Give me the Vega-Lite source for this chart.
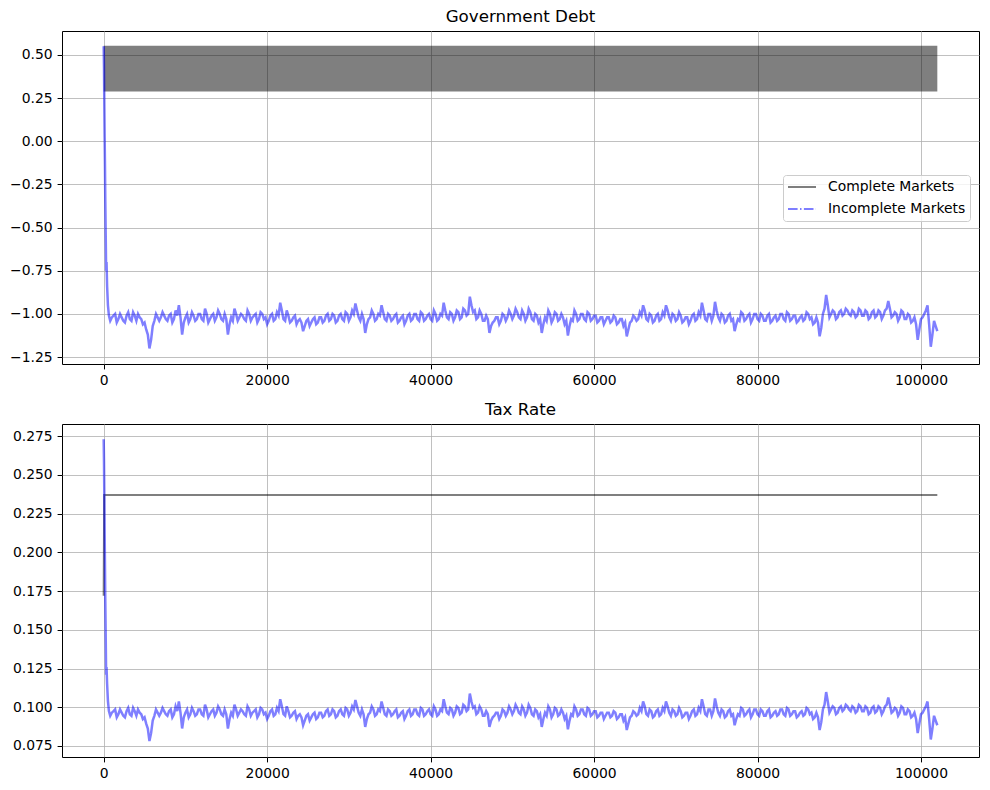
{
  "$schema": "https://vega.github.io/schema/vega-lite/v6.json",
  "padding": {"left": 9, "top": 8, "right": 5, "bottom": 5},
  "spacing": 12,
  "datasets": {
    "cm_debt": [
      {"t": 0, "lo": 0.288, "hi": 0.552},
      {"t": 102000, "lo": 0.288, "hi": 0.552}
    ],
    "cm_tax": [
      {"t": 0, "tax": 0.172},
      {"t": 60, "tax": 0.237},
      {"t": 102000, "tax": 0.237}
    ],
    "im": [
      {"t": 0, "debt": 0.55, "tax": 0.273},
      {"t": 40, "debt": 0.42, "tax": 0.258},
      {"t": 80, "debt": 0.2, "tax": 0.235},
      {"t": 120, "debt": 0.02, "tax": 0.212},
      {"t": 160, "debt": -0.15, "tax": 0.19},
      {"t": 200, "debt": -0.35, "tax": 0.168},
      {"t": 250, "debt": -0.55, "tax": 0.145},
      {"t": 300, "debt": -0.75, "tax": 0.121},
      {"t": 350, "debt": -0.7, "tax": 0.126},
      {"t": 420, "debt": -0.84, "tax": 0.115},
      {"t": 520, "debt": -0.95, "tax": 0.104},
      {"t": 640, "debt": -1.01, "tax": 0.0975},
      {"t": 800, "debt": -1.04, "tax": 0.0945},
      {"t": 1000, "debt": -1.02, "tax": 0.0965},
      {"t": 1200, "debt": -1.01, "tax": 0.0975},
      {"t": 1400, "debt": -1.0, "tax": 0.0986},
      {"t": 1600, "debt": -1.05, "tax": 0.0935},
      {"t": 1800, "debt": -1.03, "tax": 0.0955},
      {"t": 2000, "debt": -1.0, "tax": 0.0986},
      {"t": 2200, "debt": -1.02, "tax": 0.0965},
      {"t": 2400, "debt": -1.04, "tax": 0.0945},
      {"t": 2600, "debt": -1.05, "tax": 0.0935},
      {"t": 2800, "debt": -1.01, "tax": 0.0975},
      {"t": 3000, "debt": -0.99, "tax": 0.0996},
      {"t": 3200, "debt": -1.03, "tax": 0.0955},
      {"t": 3400, "debt": -1.04, "tax": 0.0945},
      {"t": 3600, "debt": -0.99, "tax": 0.0996},
      {"t": 3800, "debt": -1.01, "tax": 0.0975},
      {"t": 4000, "debt": -1.04, "tax": 0.0945},
      {"t": 4200, "debt": -1.0, "tax": 0.0986},
      {"t": 4400, "debt": -1.02, "tax": 0.0965},
      {"t": 4600, "debt": -1.03, "tax": 0.0955},
      {"t": 4800, "debt": -1.06, "tax": 0.0924},
      {"t": 5000, "debt": -1.05, "tax": 0.0935},
      {"t": 5200, "debt": -1.09, "tax": 0.0894},
      {"t": 5400, "debt": -1.12, "tax": 0.0863},
      {"t": 5600, "debt": -1.2, "tax": 0.0782},
      {"t": 5800, "debt": -1.15, "tax": 0.0833},
      {"t": 6000, "debt": -1.07, "tax": 0.0914},
      {"t": 6200, "debt": -1.04, "tax": 0.0945},
      {"t": 6400, "debt": -1.0, "tax": 0.0986},
      {"t": 6600, "debt": -1.02, "tax": 0.0965},
      {"t": 6800, "debt": -1.04, "tax": 0.0945},
      {"t": 7000, "debt": -1.02, "tax": 0.0965},
      {"t": 7200, "debt": -0.99, "tax": 0.0996},
      {"t": 7400, "debt": -1.01, "tax": 0.0975},
      {"t": 7600, "debt": -1.03, "tax": 0.0955},
      {"t": 7800, "debt": -1.04, "tax": 0.0945},
      {"t": 8000, "debt": -1.01, "tax": 0.0975},
      {"t": 8200, "debt": -1.0, "tax": 0.0986},
      {"t": 8400, "debt": -1.05, "tax": 0.0935},
      {"t": 8600, "debt": -1.03, "tax": 0.0955},
      {"t": 8800, "debt": -0.98, "tax": 0.1006},
      {"t": 9000, "debt": -1.01, "tax": 0.0975},
      {"t": 9200, "debt": -0.95, "tax": 0.1037},
      {"t": 9400, "debt": -1.02, "tax": 0.0965},
      {"t": 9600, "debt": -1.12, "tax": 0.0863},
      {"t": 9800, "debt": -1.05, "tax": 0.0935},
      {"t": 10000, "debt": -1.02, "tax": 0.0965},
      {"t": 10200, "debt": -1.0, "tax": 0.0986},
      {"t": 10400, "debt": -1.05, "tax": 0.0935},
      {"t": 10600, "debt": -1.03, "tax": 0.0955},
      {"t": 10800, "debt": -0.99, "tax": 0.0996},
      {"t": 11000, "debt": -1.01, "tax": 0.0975},
      {"t": 11200, "debt": -1.04, "tax": 0.0945},
      {"t": 11400, "debt": -1.03, "tax": 0.0955},
      {"t": 11600, "debt": -1.0, "tax": 0.0986},
      {"t": 11800, "debt": -1.0, "tax": 0.0986},
      {"t": 12000, "debt": -1.03, "tax": 0.0955},
      {"t": 12200, "debt": -1.04, "tax": 0.0945},
      {"t": 12400, "debt": -0.97, "tax": 0.1016},
      {"t": 12600, "debt": -1.0, "tax": 0.0986},
      {"t": 12800, "debt": -1.05, "tax": 0.0935},
      {"t": 13000, "debt": -1.03, "tax": 0.0955},
      {"t": 13200, "debt": -1.01, "tax": 0.0975},
      {"t": 13400, "debt": -1.0, "tax": 0.0986},
      {"t": 13600, "debt": -1.04, "tax": 0.0945},
      {"t": 13800, "debt": -1.02, "tax": 0.0965},
      {"t": 14000, "debt": -0.98, "tax": 0.1006},
      {"t": 14200, "debt": -1.0, "tax": 0.0986},
      {"t": 14400, "debt": -1.03, "tax": 0.0955},
      {"t": 14600, "debt": -1.04, "tax": 0.0945},
      {"t": 14800, "debt": -1.0, "tax": 0.0986},
      {"t": 15000, "debt": -1.03, "tax": 0.0955},
      {"t": 15200, "debt": -1.12, "tax": 0.0863},
      {"t": 15400, "debt": -1.06, "tax": 0.0924},
      {"t": 15600, "debt": -1.02, "tax": 0.0965},
      {"t": 15800, "debt": -1.04, "tax": 0.0945},
      {"t": 16000, "debt": -0.97, "tax": 0.1016},
      {"t": 16200, "debt": -1.0, "tax": 0.0986},
      {"t": 16400, "debt": -1.04, "tax": 0.0945},
      {"t": 16600, "debt": -1.02, "tax": 0.0965},
      {"t": 16800, "debt": -1.0, "tax": 0.0986},
      {"t": 17000, "debt": -1.01, "tax": 0.0975},
      {"t": 17200, "debt": -1.03, "tax": 0.0955},
      {"t": 17400, "debt": -1.04, "tax": 0.0945},
      {"t": 17600, "debt": -0.98, "tax": 0.1006},
      {"t": 17800, "debt": -1.0, "tax": 0.0986},
      {"t": 18000, "debt": -1.04, "tax": 0.0945},
      {"t": 18200, "debt": -1.02, "tax": 0.0965},
      {"t": 18400, "debt": -1.01, "tax": 0.0975},
      {"t": 18600, "debt": -1.0, "tax": 0.0986},
      {"t": 18800, "debt": -1.05, "tax": 0.0935},
      {"t": 19000, "debt": -1.03, "tax": 0.0955},
      {"t": 19200, "debt": -0.99, "tax": 0.0996},
      {"t": 19400, "debt": -1.0, "tax": 0.0986},
      {"t": 19600, "debt": -1.03, "tax": 0.0955},
      {"t": 19800, "debt": -1.02, "tax": 0.0965},
      {"t": 20000, "debt": -1.06, "tax": 0.0924},
      {"t": 20200, "debt": -1.04, "tax": 0.0945},
      {"t": 20400, "debt": -1.01, "tax": 0.0975},
      {"t": 20600, "debt": -1.0, "tax": 0.0986},
      {"t": 20800, "debt": -1.04, "tax": 0.0945},
      {"t": 21000, "debt": -1.03, "tax": 0.0955},
      {"t": 21200, "debt": -0.99, "tax": 0.0996},
      {"t": 21400, "debt": -1.01, "tax": 0.0975},
      {"t": 21600, "debt": -0.935, "tax": 0.1052},
      {"t": 21800, "debt": -0.98, "tax": 0.1006},
      {"t": 22000, "debt": -1.03, "tax": 0.0955},
      {"t": 22200, "debt": -1.04, "tax": 0.0945},
      {"t": 22400, "debt": -0.98, "tax": 0.1006},
      {"t": 22600, "debt": -1.01, "tax": 0.0975},
      {"t": 22800, "debt": -1.05, "tax": 0.0935},
      {"t": 23000, "debt": -1.04, "tax": 0.0945},
      {"t": 23200, "debt": -1.02, "tax": 0.0965},
      {"t": 23400, "debt": -1.01, "tax": 0.0975},
      {"t": 23600, "debt": -1.06, "tax": 0.0924},
      {"t": 23800, "debt": -1.04, "tax": 0.0945},
      {"t": 24000, "debt": -1.03, "tax": 0.0955},
      {"t": 24200, "debt": -1.05, "tax": 0.0935},
      {"t": 24400, "debt": -1.1, "tax": 0.0884},
      {"t": 24600, "debt": -1.07, "tax": 0.0914},
      {"t": 24800, "debt": -1.04, "tax": 0.0945},
      {"t": 25000, "debt": -1.03, "tax": 0.0955},
      {"t": 25200, "debt": -1.07, "tax": 0.0914},
      {"t": 25400, "debt": -1.05, "tax": 0.0935},
      {"t": 25600, "debt": -1.03, "tax": 0.0955},
      {"t": 25800, "debt": -1.02, "tax": 0.0965},
      {"t": 26000, "debt": -1.06, "tax": 0.0924},
      {"t": 26200, "debt": -1.05, "tax": 0.0935},
      {"t": 26400, "debt": -1.02, "tax": 0.0965},
      {"t": 26600, "debt": -1.02, "tax": 0.0965},
      {"t": 26800, "debt": -1.05, "tax": 0.0935},
      {"t": 27000, "debt": -1.04, "tax": 0.0945},
      {"t": 27200, "debt": -1.01, "tax": 0.0975},
      {"t": 27400, "debt": -1.0, "tax": 0.0986},
      {"t": 27600, "debt": -1.04, "tax": 0.0945},
      {"t": 27800, "debt": -1.03, "tax": 0.0955},
      {"t": 28000, "debt": -1.0, "tax": 0.0986},
      {"t": 28200, "debt": -1.01, "tax": 0.0975},
      {"t": 28400, "debt": -1.05, "tax": 0.0935},
      {"t": 28600, "debt": -1.04, "tax": 0.0945},
      {"t": 28800, "debt": -1.01, "tax": 0.0975},
      {"t": 29000, "debt": -1.0, "tax": 0.0986},
      {"t": 29200, "debt": -1.03, "tax": 0.0955},
      {"t": 29400, "debt": -1.04, "tax": 0.0945},
      {"t": 29600, "debt": -0.99, "tax": 0.0996},
      {"t": 29800, "debt": -1.0, "tax": 0.0986},
      {"t": 30000, "debt": -1.04, "tax": 0.0945},
      {"t": 30200, "debt": -1.02, "tax": 0.0965},
      {"t": 30400, "debt": -0.98, "tax": 0.1006},
      {"t": 30600, "debt": -1.0, "tax": 0.0986},
      {"t": 30800, "debt": -0.94, "tax": 0.1047},
      {"t": 31000, "debt": -0.98, "tax": 0.1006},
      {"t": 31200, "debt": -1.02, "tax": 0.0965},
      {"t": 31400, "debt": -1.04, "tax": 0.0945},
      {"t": 31600, "debt": -1.0, "tax": 0.0986},
      {"t": 31800, "debt": -1.03, "tax": 0.0955},
      {"t": 32000, "debt": -1.11, "tax": 0.0873},
      {"t": 32200, "debt": -1.06, "tax": 0.0924},
      {"t": 32400, "debt": -1.03, "tax": 0.0955},
      {"t": 32600, "debt": -1.02, "tax": 0.0965},
      {"t": 32800, "debt": -0.98, "tax": 0.1006},
      {"t": 33000, "debt": -1.0, "tax": 0.0986},
      {"t": 33200, "debt": -1.04, "tax": 0.0945},
      {"t": 33400, "debt": -1.03, "tax": 0.0955},
      {"t": 33600, "debt": -1.0, "tax": 0.0986},
      {"t": 33800, "debt": -1.01, "tax": 0.0975},
      {"t": 34000, "debt": -0.95, "tax": 0.1037},
      {"t": 34200, "debt": -0.99, "tax": 0.0996},
      {"t": 34400, "debt": -1.03, "tax": 0.0955},
      {"t": 34600, "debt": -1.04, "tax": 0.0945},
      {"t": 34800, "debt": -1.0, "tax": 0.0986},
      {"t": 35000, "debt": -1.01, "tax": 0.0975},
      {"t": 35200, "debt": -1.04, "tax": 0.0945},
      {"t": 35400, "debt": -1.03, "tax": 0.0955},
      {"t": 35600, "debt": -1.01, "tax": 0.0975},
      {"t": 35800, "debt": -1.0, "tax": 0.0986},
      {"t": 36000, "debt": -1.05, "tax": 0.0935},
      {"t": 36200, "debt": -1.04, "tax": 0.0945},
      {"t": 36400, "debt": -1.02, "tax": 0.0965},
      {"t": 36600, "debt": -1.01, "tax": 0.0975},
      {"t": 36800, "debt": -1.06, "tax": 0.0924},
      {"t": 37000, "debt": -1.04, "tax": 0.0945},
      {"t": 37200, "debt": -1.01, "tax": 0.0975},
      {"t": 37400, "debt": -1.0, "tax": 0.0986},
      {"t": 37600, "debt": -1.04, "tax": 0.0945},
      {"t": 37800, "debt": -1.03, "tax": 0.0955},
      {"t": 38000, "debt": -1.0, "tax": 0.0986},
      {"t": 38200, "debt": -1.0, "tax": 0.0986},
      {"t": 38400, "debt": -1.03, "tax": 0.0955},
      {"t": 38600, "debt": -1.04, "tax": 0.0945},
      {"t": 38800, "debt": -0.99, "tax": 0.0996},
      {"t": 39000, "debt": -1.0, "tax": 0.0986},
      {"t": 39200, "debt": -1.04, "tax": 0.0945},
      {"t": 39400, "debt": -1.03, "tax": 0.0955},
      {"t": 39600, "debt": -1.01, "tax": 0.0975},
      {"t": 39800, "debt": -1.0, "tax": 0.0986},
      {"t": 40000, "debt": -1.03, "tax": 0.0955},
      {"t": 40200, "debt": -1.04, "tax": 0.0945},
      {"t": 40400, "debt": -0.98, "tax": 0.1006},
      {"t": 40600, "debt": -1.0, "tax": 0.0986},
      {"t": 40800, "debt": -1.04, "tax": 0.0945},
      {"t": 41000, "debt": -1.03, "tax": 0.0955},
      {"t": 41200, "debt": -1.0, "tax": 0.0986},
      {"t": 41400, "debt": -1.01, "tax": 0.0975},
      {"t": 41600, "debt": -0.935, "tax": 0.1052},
      {"t": 41800, "debt": -0.98, "tax": 0.1006},
      {"t": 42000, "debt": -1.02, "tax": 0.0965},
      {"t": 42200, "debt": -1.03, "tax": 0.0955},
      {"t": 42400, "debt": -0.99, "tax": 0.0996},
      {"t": 42600, "debt": -1.0, "tax": 0.0986},
      {"t": 42800, "debt": -1.04, "tax": 0.0945},
      {"t": 43000, "debt": -1.02, "tax": 0.0965},
      {"t": 43200, "debt": -0.98, "tax": 0.1006},
      {"t": 43400, "debt": -0.99, "tax": 0.0996},
      {"t": 43600, "debt": -1.03, "tax": 0.0955},
      {"t": 43800, "debt": -1.02, "tax": 0.0965},
      {"t": 44000, "debt": -0.97, "tax": 0.1016},
      {"t": 44200, "debt": -0.98, "tax": 0.1006},
      {"t": 44400, "debt": -1.01, "tax": 0.0975},
      {"t": 44600, "debt": -1.0, "tax": 0.0986},
      {"t": 44800, "debt": -0.9, "tax": 0.1088},
      {"t": 45000, "debt": -0.95, "tax": 0.1037},
      {"t": 45200, "debt": -0.99, "tax": 0.0996},
      {"t": 45400, "debt": -0.98, "tax": 0.1006},
      {"t": 45600, "debt": -1.03, "tax": 0.0955},
      {"t": 45800, "debt": -1.02, "tax": 0.0965},
      {"t": 46000, "debt": -0.98, "tax": 0.1006},
      {"t": 46200, "debt": -1.0, "tax": 0.0986},
      {"t": 46400, "debt": -1.04, "tax": 0.0945},
      {"t": 46600, "debt": -1.04, "tax": 0.0945},
      {"t": 46800, "debt": -1.01, "tax": 0.0975},
      {"t": 47000, "debt": -1.03, "tax": 0.0955},
      {"t": 47200, "debt": -1.11, "tax": 0.0873},
      {"t": 47400, "debt": -1.07, "tax": 0.0914},
      {"t": 47600, "debt": -1.05, "tax": 0.0935},
      {"t": 47800, "debt": -1.04, "tax": 0.0945},
      {"t": 48000, "debt": -1.02, "tax": 0.0965},
      {"t": 48200, "debt": -1.02, "tax": 0.0965},
      {"t": 48400, "debt": -1.06, "tax": 0.0924},
      {"t": 48600, "debt": -1.04, "tax": 0.0945},
      {"t": 48800, "debt": -1.0, "tax": 0.0986},
      {"t": 49000, "debt": -1.01, "tax": 0.0975},
      {"t": 49200, "debt": -1.04, "tax": 0.0945},
      {"t": 49400, "debt": -1.02, "tax": 0.0965},
      {"t": 49600, "debt": -0.98, "tax": 0.1006},
      {"t": 49800, "debt": -1.0, "tax": 0.0986},
      {"t": 50000, "debt": -1.03, "tax": 0.0955},
      {"t": 50200, "debt": -1.01, "tax": 0.0975},
      {"t": 50400, "debt": -0.97, "tax": 0.1016},
      {"t": 50600, "debt": -0.99, "tax": 0.0996},
      {"t": 50800, "debt": -1.02, "tax": 0.0965},
      {"t": 51000, "debt": -1.03, "tax": 0.0955},
      {"t": 51200, "debt": -0.98, "tax": 0.1006},
      {"t": 51400, "debt": -1.0, "tax": 0.0986},
      {"t": 51600, "debt": -1.04, "tax": 0.0945},
      {"t": 51800, "debt": -1.02, "tax": 0.0965},
      {"t": 52000, "debt": -0.97, "tax": 0.1016},
      {"t": 52200, "debt": -0.99, "tax": 0.0996},
      {"t": 52400, "debt": -1.03, "tax": 0.0955},
      {"t": 52600, "debt": -1.04, "tax": 0.0945},
      {"t": 52800, "debt": -1.0, "tax": 0.0986},
      {"t": 53000, "debt": -1.01, "tax": 0.0975},
      {"t": 53200, "debt": -1.05, "tax": 0.0935},
      {"t": 53400, "debt": -1.03, "tax": 0.0955},
      {"t": 53600, "debt": -1.11, "tax": 0.0873},
      {"t": 53800, "debt": -1.06, "tax": 0.0924},
      {"t": 54000, "debt": -1.02, "tax": 0.0965},
      {"t": 54200, "debt": -1.04, "tax": 0.0945},
      {"t": 54400, "debt": -0.98, "tax": 0.1006},
      {"t": 54600, "debt": -1.0, "tax": 0.0986},
      {"t": 54800, "debt": -1.05, "tax": 0.0935},
      {"t": 55000, "debt": -1.03, "tax": 0.0955},
      {"t": 55200, "debt": -0.99, "tax": 0.0996},
      {"t": 55400, "debt": -1.0, "tax": 0.0986},
      {"t": 55600, "debt": -1.04, "tax": 0.0945},
      {"t": 55800, "debt": -1.03, "tax": 0.0955},
      {"t": 56000, "debt": -1.0, "tax": 0.0986},
      {"t": 56200, "debt": -1.02, "tax": 0.0965},
      {"t": 56400, "debt": -1.06, "tax": 0.0924},
      {"t": 56600, "debt": -1.04, "tax": 0.0945},
      {"t": 56800, "debt": -1.125, "tax": 0.0858},
      {"t": 57000, "debt": -1.07, "tax": 0.0914},
      {"t": 57200, "debt": -1.03, "tax": 0.0955},
      {"t": 57400, "debt": -1.04, "tax": 0.0945},
      {"t": 57600, "debt": -0.98, "tax": 0.1006},
      {"t": 57800, "debt": -1.0, "tax": 0.0986},
      {"t": 58000, "debt": -1.04, "tax": 0.0945},
      {"t": 58200, "debt": -1.03, "tax": 0.0955},
      {"t": 58400, "debt": -1.0, "tax": 0.0986},
      {"t": 58600, "debt": -1.0, "tax": 0.0986},
      {"t": 58800, "debt": -1.03, "tax": 0.0955},
      {"t": 59000, "debt": -1.04, "tax": 0.0945},
      {"t": 59200, "debt": -0.99, "tax": 0.0996},
      {"t": 59400, "debt": -1.0, "tax": 0.0986},
      {"t": 59600, "debt": -1.04, "tax": 0.0945},
      {"t": 59800, "debt": -1.03, "tax": 0.0955},
      {"t": 60000, "debt": -1.01, "tax": 0.0975},
      {"t": 60200, "debt": -1.01, "tax": 0.0975},
      {"t": 60400, "debt": -1.05, "tax": 0.0935},
      {"t": 60600, "debt": -1.04, "tax": 0.0945},
      {"t": 60800, "debt": -1.02, "tax": 0.0965},
      {"t": 61000, "debt": -1.02, "tax": 0.0965},
      {"t": 61200, "debt": -1.06, "tax": 0.0924},
      {"t": 61400, "debt": -1.04, "tax": 0.0945},
      {"t": 61600, "debt": -1.02, "tax": 0.0965},
      {"t": 61800, "debt": -1.02, "tax": 0.0965},
      {"t": 62000, "debt": -1.05, "tax": 0.0935},
      {"t": 62200, "debt": -1.04, "tax": 0.0945},
      {"t": 62400, "debt": -1.01, "tax": 0.0975},
      {"t": 62600, "debt": -1.02, "tax": 0.0965},
      {"t": 62800, "debt": -1.06, "tax": 0.0924},
      {"t": 63000, "debt": -1.05, "tax": 0.0935},
      {"t": 63200, "debt": -1.03, "tax": 0.0955},
      {"t": 63400, "debt": -1.03, "tax": 0.0955},
      {"t": 63600, "debt": -1.07, "tax": 0.0914},
      {"t": 63800, "debt": -1.05, "tax": 0.0935},
      {"t": 64000, "debt": -1.13, "tax": 0.0853},
      {"t": 64200, "debt": -1.09, "tax": 0.0894},
      {"t": 64400, "debt": -1.05, "tax": 0.0935},
      {"t": 64600, "debt": -1.04, "tax": 0.0945},
      {"t": 64800, "debt": -1.01, "tax": 0.0975},
      {"t": 65000, "debt": -1.02, "tax": 0.0965},
      {"t": 65200, "debt": -1.04, "tax": 0.0945},
      {"t": 65400, "debt": -1.03, "tax": 0.0955},
      {"t": 65600, "debt": -0.99, "tax": 0.0996},
      {"t": 65800, "debt": -1.01, "tax": 0.0975},
      {"t": 66000, "debt": -0.95, "tax": 0.1037},
      {"t": 66200, "debt": -0.98, "tax": 0.1006},
      {"t": 66400, "debt": -1.03, "tax": 0.0955},
      {"t": 66600, "debt": -1.04, "tax": 0.0945},
      {"t": 66800, "debt": -1.0, "tax": 0.0986},
      {"t": 67000, "debt": -1.01, "tax": 0.0975},
      {"t": 67200, "debt": -1.05, "tax": 0.0935},
      {"t": 67400, "debt": -1.04, "tax": 0.0945},
      {"t": 67600, "debt": -1.01, "tax": 0.0975},
      {"t": 67800, "debt": -1.0, "tax": 0.0986},
      {"t": 68000, "debt": -1.04, "tax": 0.0945},
      {"t": 68200, "debt": -1.03, "tax": 0.0955},
      {"t": 68400, "debt": -0.99, "tax": 0.0996},
      {"t": 68600, "debt": -1.01, "tax": 0.0975},
      {"t": 68800, "debt": -0.95, "tax": 0.1037},
      {"t": 69000, "debt": -0.98, "tax": 0.1006},
      {"t": 69200, "debt": -1.02, "tax": 0.0965},
      {"t": 69400, "debt": -1.04, "tax": 0.0945},
      {"t": 69600, "debt": -1.0, "tax": 0.0986},
      {"t": 69800, "debt": -1.01, "tax": 0.0975},
      {"t": 70000, "debt": -1.04, "tax": 0.0945},
      {"t": 70200, "debt": -1.03, "tax": 0.0955},
      {"t": 70400, "debt": -0.99, "tax": 0.0996},
      {"t": 70600, "debt": -1.01, "tax": 0.0975},
      {"t": 70800, "debt": -1.05, "tax": 0.0935},
      {"t": 71000, "debt": -1.04, "tax": 0.0945},
      {"t": 71200, "debt": -1.02, "tax": 0.0965},
      {"t": 71400, "debt": -1.02, "tax": 0.0965},
      {"t": 71600, "debt": -1.06, "tax": 0.0924},
      {"t": 71800, "debt": -1.04, "tax": 0.0945},
      {"t": 72000, "debt": -1.01, "tax": 0.0975},
      {"t": 72200, "debt": -1.0, "tax": 0.0986},
      {"t": 72400, "debt": -1.04, "tax": 0.0945},
      {"t": 72600, "debt": -1.03, "tax": 0.0955},
      {"t": 72800, "debt": -0.99, "tax": 0.0996},
      {"t": 73000, "debt": -1.01, "tax": 0.0975},
      {"t": 73200, "debt": -0.935, "tax": 0.1052},
      {"t": 73400, "debt": -0.98, "tax": 0.1006},
      {"t": 73600, "debt": -1.03, "tax": 0.0955},
      {"t": 73800, "debt": -1.04, "tax": 0.0945},
      {"t": 74000, "debt": -1.0, "tax": 0.0986},
      {"t": 74200, "debt": -1.0, "tax": 0.0986},
      {"t": 74400, "debt": -1.04, "tax": 0.0945},
      {"t": 74600, "debt": -1.01, "tax": 0.0975},
      {"t": 74800, "debt": -0.93, "tax": 0.1057},
      {"t": 75000, "debt": -0.98, "tax": 0.1006},
      {"t": 75200, "debt": -1.02, "tax": 0.0965},
      {"t": 75400, "debt": -1.04, "tax": 0.0945},
      {"t": 75600, "debt": -1.0, "tax": 0.0986},
      {"t": 75800, "debt": -1.01, "tax": 0.0975},
      {"t": 76000, "debt": -1.05, "tax": 0.0935},
      {"t": 76200, "debt": -1.04, "tax": 0.0945},
      {"t": 76400, "debt": -1.01, "tax": 0.0975},
      {"t": 76600, "debt": -1.0, "tax": 0.0986},
      {"t": 76800, "debt": -1.04, "tax": 0.0945},
      {"t": 77000, "debt": -1.03, "tax": 0.0955},
      {"t": 77200, "debt": -1.1, "tax": 0.0884},
      {"t": 77400, "debt": -1.06, "tax": 0.0924},
      {"t": 77600, "debt": -1.03, "tax": 0.0955},
      {"t": 77800, "debt": -1.04, "tax": 0.0945},
      {"t": 78000, "debt": -0.99, "tax": 0.0996},
      {"t": 78200, "debt": -1.0, "tax": 0.0986},
      {"t": 78400, "debt": -1.04, "tax": 0.0945},
      {"t": 78600, "debt": -1.03, "tax": 0.0955},
      {"t": 78800, "debt": -1.01, "tax": 0.0975},
      {"t": 79000, "debt": -1.0, "tax": 0.0986},
      {"t": 79200, "debt": -1.05, "tax": 0.0935},
      {"t": 79400, "debt": -1.03, "tax": 0.0955},
      {"t": 79600, "debt": -1.0, "tax": 0.0986},
      {"t": 79800, "debt": -1.0, "tax": 0.0986},
      {"t": 80000, "debt": -1.03, "tax": 0.0955},
      {"t": 80200, "debt": -1.04, "tax": 0.0945},
      {"t": 80400, "debt": -1.0, "tax": 0.0986},
      {"t": 80600, "debt": -1.01, "tax": 0.0975},
      {"t": 80800, "debt": -1.04, "tax": 0.0945},
      {"t": 81000, "debt": -1.04, "tax": 0.0945},
      {"t": 81200, "debt": -1.01, "tax": 0.0975},
      {"t": 81400, "debt": -1.0, "tax": 0.0986},
      {"t": 81600, "debt": -1.05, "tax": 0.0935},
      {"t": 81800, "debt": -1.04, "tax": 0.0945},
      {"t": 82000, "debt": -1.02, "tax": 0.0965},
      {"t": 82200, "debt": -1.01, "tax": 0.0975},
      {"t": 82400, "debt": -1.04, "tax": 0.0945},
      {"t": 82600, "debt": -1.03, "tax": 0.0955},
      {"t": 82800, "debt": -1.0, "tax": 0.0986},
      {"t": 83000, "debt": -1.0, "tax": 0.0986},
      {"t": 83200, "debt": -1.03, "tax": 0.0955},
      {"t": 83400, "debt": -1.04, "tax": 0.0945},
      {"t": 83600, "debt": -0.99, "tax": 0.0996},
      {"t": 83800, "debt": -1.0, "tax": 0.0986},
      {"t": 84000, "debt": -1.04, "tax": 0.0945},
      {"t": 84200, "debt": -1.03, "tax": 0.0955},
      {"t": 84400, "debt": -1.01, "tax": 0.0975},
      {"t": 84600, "debt": -1.01, "tax": 0.0975},
      {"t": 84800, "debt": -1.05, "tax": 0.0935},
      {"t": 85000, "debt": -1.04, "tax": 0.0945},
      {"t": 85200, "debt": -1.02, "tax": 0.0965},
      {"t": 85400, "debt": -1.01, "tax": 0.0975},
      {"t": 85600, "debt": -1.04, "tax": 0.0945},
      {"t": 85800, "debt": -1.03, "tax": 0.0955},
      {"t": 86000, "debt": -0.99, "tax": 0.0996},
      {"t": 86200, "debt": -1.0, "tax": 0.0986},
      {"t": 86400, "debt": -1.03, "tax": 0.0955},
      {"t": 86600, "debt": -1.02, "tax": 0.0965},
      {"t": 86800, "debt": -1.06, "tax": 0.0924},
      {"t": 87000, "debt": -1.05, "tax": 0.0935},
      {"t": 87200, "debt": -1.02, "tax": 0.0965},
      {"t": 87400, "debt": -1.05, "tax": 0.0935},
      {"t": 87600, "debt": -1.13, "tax": 0.0853},
      {"t": 87800, "debt": -1.08, "tax": 0.0904},
      {"t": 88000, "debt": -1.0, "tax": 0.0986},
      {"t": 88200, "debt": -0.97, "tax": 0.1016},
      {"t": 88400, "debt": -0.89, "tax": 0.1098},
      {"t": 88600, "debt": -0.95, "tax": 0.1037},
      {"t": 88800, "debt": -1.02, "tax": 0.0965},
      {"t": 89000, "debt": -1.0, "tax": 0.0986},
      {"t": 89200, "debt": -0.98, "tax": 0.1006},
      {"t": 89400, "debt": -0.99, "tax": 0.0996},
      {"t": 89600, "debt": -1.03, "tax": 0.0955},
      {"t": 89800, "debt": -1.02, "tax": 0.0965},
      {"t": 90000, "debt": -0.99, "tax": 0.0996},
      {"t": 90200, "debt": -0.98, "tax": 0.1006},
      {"t": 90400, "debt": -1.01, "tax": 0.0975},
      {"t": 90600, "debt": -1.0, "tax": 0.0986},
      {"t": 90800, "debt": -0.97, "tax": 0.1016},
      {"t": 91000, "debt": -0.98, "tax": 0.1006},
      {"t": 91200, "debt": -1.0, "tax": 0.0986},
      {"t": 91400, "debt": -1.01, "tax": 0.0975},
      {"t": 91600, "debt": -0.98, "tax": 0.1006},
      {"t": 91800, "debt": -0.99, "tax": 0.0996},
      {"t": 92000, "debt": -1.02, "tax": 0.0965},
      {"t": 92200, "debt": -1.01, "tax": 0.0975},
      {"t": 92400, "debt": -0.97, "tax": 0.1016},
      {"t": 92600, "debt": -0.98, "tax": 0.1006},
      {"t": 92800, "debt": -1.01, "tax": 0.0975},
      {"t": 93000, "debt": -1.01, "tax": 0.0975},
      {"t": 93200, "debt": -0.98, "tax": 0.1006},
      {"t": 93400, "debt": -0.99, "tax": 0.0996},
      {"t": 93600, "debt": -1.03, "tax": 0.0955},
      {"t": 93800, "debt": -1.02, "tax": 0.0965},
      {"t": 94000, "debt": -0.99, "tax": 0.0996},
      {"t": 94200, "debt": -0.98, "tax": 0.1006},
      {"t": 94400, "debt": -1.02, "tax": 0.0965},
      {"t": 94600, "debt": -1.01, "tax": 0.0975},
      {"t": 94800, "debt": -0.98, "tax": 0.1006},
      {"t": 95000, "debt": -0.99, "tax": 0.0996},
      {"t": 95200, "debt": -1.03, "tax": 0.0955},
      {"t": 95400, "debt": -1.01, "tax": 0.0975},
      {"t": 95600, "debt": -0.98, "tax": 0.1006},
      {"t": 95800, "debt": -0.97, "tax": 0.1016},
      {"t": 96000, "debt": -0.925, "tax": 0.1062},
      {"t": 96200, "debt": -0.97, "tax": 0.1016},
      {"t": 96400, "debt": -1.02, "tax": 0.0965},
      {"t": 96600, "debt": -1.01, "tax": 0.0975},
      {"t": 96800, "debt": -0.99, "tax": 0.0996},
      {"t": 97000, "debt": -1.0, "tax": 0.0986},
      {"t": 97200, "debt": -1.04, "tax": 0.0945},
      {"t": 97400, "debt": -1.02, "tax": 0.0965},
      {"t": 97600, "debt": -0.98, "tax": 0.1006},
      {"t": 97800, "debt": -0.99, "tax": 0.0996},
      {"t": 98000, "debt": -1.03, "tax": 0.0955},
      {"t": 98200, "debt": -1.03, "tax": 0.0955},
      {"t": 98400, "debt": -1.0, "tax": 0.0986},
      {"t": 98600, "debt": -1.01, "tax": 0.0975},
      {"t": 98800, "debt": -1.05, "tax": 0.0935},
      {"t": 99000, "debt": -1.04, "tax": 0.0945},
      {"t": 99200, "debt": -1.02, "tax": 0.0965},
      {"t": 99400, "debt": -1.06, "tax": 0.0924},
      {"t": 99600, "debt": -1.15, "tax": 0.0833},
      {"t": 99800, "debt": -1.09, "tax": 0.0894},
      {"t": 100000, "debt": -1.03, "tax": 0.0955},
      {"t": 100200, "debt": -1.02, "tax": 0.0965},
      {"t": 100400, "debt": -1.0, "tax": 0.0986},
      {"t": 100600, "debt": -0.98, "tax": 0.1006},
      {"t": 100800, "debt": -0.95, "tax": 0.1037},
      {"t": 101000, "debt": -1.06, "tax": 0.0924},
      {"t": 101200, "debt": -1.19, "tax": 0.0792},
      {"t": 101400, "debt": -1.12, "tax": 0.0863},
      {"t": 101600, "debt": -1.04, "tax": 0.0945},
      {"t": 101800, "debt": -1.07, "tax": 0.0914},
      {"t": 102000, "debt": -1.1, "tax": 0.0884}
    ]
  },
  "resolve": {"legend": {"color": "independent"}},
  "vconcat": [
    {
      "width": 917,
      "height": 333,
      "title": "Government Debt",
      "layer": [
        {
          "data": {"name": "cm_debt"},
          "mark": {"type": "area", "opacity": 0.5},
          "encoding": {
            "x": {"field": "t", "type": "quantitative"},
            "y": {"field": "lo", "type": "quantitative"},
            "y2": {"field": "hi"},
            "color": {"datum": "Complete Markets", "type": "nominal"}
          }
        },
        {
          "data": {"name": "im"},
          "mark": {"type": "line", "opacity": 0.5, "strokeWidth": 2.5},
          "encoding": {
            "x": {"field": "t", "type": "quantitative"},
            "y": {"field": "debt", "type": "quantitative"},
            "color": {"datum": "Incomplete Markets", "type": "nominal"}
          }
        }
      ],
      "encoding": {
        "x": {
          "field": "t",
          "type": "quantitative",
          "title": null,
          "scale": {"domain": [-5100, 107100], "nice": false, "zero": false},
          "axis": {"values": [0, 20000, 40000, 60000, 80000, 100000], "format": "d"}
        },
        "y": {
          "field": "debt",
          "type": "quantitative",
          "title": null,
          "scale": {"domain": [-1.29, 0.638], "nice": false, "zero": false},
          "axis": {"values": [-1.25, -1, -0.75, -0.5, -0.25, 0, 0.25, 0.5], "format": ".2f"}
        },
        "color": {
          "type": "nominal",
          "scale": {"domain": ["Complete Markets", "Incomplete Markets"], "range": ["black", "blue"]},
          "legend": {
            "title": null,
            "orient": "none",
            "legendX": 721,
            "legendY": 144,
            "symbolType": "stroke",
            "symbolSize": 784,
            "symbolStrokeWidth": 2,
            "symbolOpacity": 0.5,
            "clipHeight": 16,
            "labelFontSize": 13.9,
            "labelFont": "DejaVu Sans",
            "labelColor": "black",
            "labelOffset": 11,
            "rowPadding": 6,
            "padding": 4,
            "strokeColor": "#cccccc",
            "fillColor": "rgba(255,255,255,0.8)",
            "cornerRadius": 3,
            "encode": {
              "symbols": {
                "update": {
                  "strokeDash": {"signal": "datum.value == 'Incomplete Markets' ? [9.6, 2.4, 1.5, 2.4] : [1, 0]"}
                }
              }
            }
          }
        }
      }
    },
    {
      "width": 917,
      "height": 333,
      "title": "Tax Rate",
      "layer": [
        {
          "data": {"name": "cm_tax"},
          "mark": {"type": "line", "opacity": 0.5, "strokeWidth": 2},
          "encoding": {
            "x": {"field": "t", "type": "quantitative"},
            "y": {"field": "tax", "type": "quantitative"},
            "color": {"datum": "Complete Markets", "type": "nominal", "legend": null}
          }
        },
        {
          "data": {"name": "im"},
          "mark": {"type": "line", "opacity": 0.5, "strokeWidth": 2.5},
          "encoding": {
            "x": {"field": "t", "type": "quantitative"},
            "y": {"field": "tax", "type": "quantitative"},
            "color": {"datum": "Incomplete Markets", "type": "nominal", "legend": null}
          }
        }
      ],
      "encoding": {
        "x": {
          "field": "t",
          "type": "quantitative",
          "title": null,
          "scale": {"domain": [-5100, 107100], "nice": false, "zero": false},
          "axis": {"values": [0, 20000, 40000, 60000, 80000, 100000], "format": "d"}
        },
        "y": {
          "field": "tax",
          "type": "quantitative",
          "title": null,
          "scale": {"domain": [0.0679, 0.2828], "nice": false, "zero": false},
          "axis": {"values": [0.075, 0.1, 0.125, 0.15, 0.175, 0.2, 0.225, 0.25, 0.275], "format": ".3f"}
        }
      }
    }
  ],
  "config": {
    "font": "DejaVu Sans",
    "view": {"stroke": "black", "strokeWidth": 1},
    "title": {"font": "DejaVu Sans", "fontSize": 16.7, "fontWeight": "normal", "color": "black", "offset": 5, "anchor": "middle"},
    "axis": {
      "domain": false,
      "grid": true,
      "gridColor": "#b0b0b0",
      "gridWidth": 0.8,
      "gridOpacity": 1,
      "ticks": true,
      "tickColor": "black",
      "tickSize": 4.9,
      "tickWidth": 1,
      "labelPadding": 4.9,
      "labelFont": "DejaVu Sans",
      "labelFontSize": 13.9,
      "labelColor": "black"
    },
    "axisY": {"minExtent": 52, "maxExtent": 52},
    "axisX": {"labelFlush": false}
  }
}
